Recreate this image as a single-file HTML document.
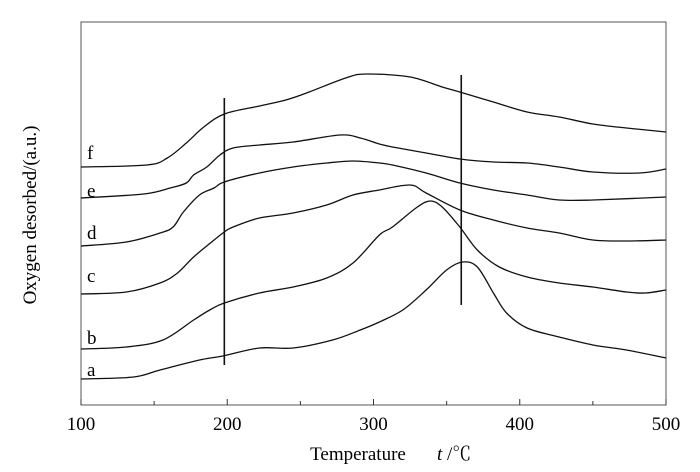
<!DOCTYPE html>
<html><head><meta charset="utf-8"><style>
html,body{margin:0;padding:0;background:#fff}
svg{display:block;font-family:"Liberation Serif","Noto Serif CJK SC",serif}
</style></head><body>
<svg id="chart" width="700" height="472" viewBox="0 0 700 472">
<rect x="81" y="22" width="585" height="383" fill="none" stroke="#555" stroke-width="1"/>
<g id="ticks"></g>
<g id="series"></g>
<text x="36" y="215" font-size="19" text-anchor="middle" transform="rotate(-90 36 215)">Oxygen desorbed/(a.u.)</text>
<text x="358" y="460" font-size="19" text-anchor="middle">Temperature</text>
<text x="437" y="460" font-size="19" font-style="italic">t</text>
<text x="447" y="460" font-size="19">/℃</text>
</svg>
<script>
const xTicks=[100,200,300,400,500];
const xMinor=[150,250,350,450];
const labels=['a','b','c','d','e','f'];
const labelY=[376,344,282,239,197,159];
const tA=[100,136,154,181,197,222,245,272,291,304,320,336,350,361,371,382,391,405,427,450,473,500];
const vA=[26,28,35,45,49,57,57,65,75,83,95,115,135,143,138,112,92,77,68,60,55,47];
const tB=[100,131,156,177,188,198,222,245,268,286,304,313,330,339,347,359,371,386,405,427,450,473,486,500];
const vB=[56,58,65,85,95,102,112,118,127,142,170,178,198,204,198,178,155,138,128,122,118,113,112,115];
const tC=[100,131,154,166,177,191,198,204,222,245,268,286,304,325,336,359,382,405,427,450,473,500];
const vC=[111,113,122,132,148,165,173,178,187,192,200,210,215,220,212,195,185,177,172,165,164,165];
const tD=[100,131,154,163,170,181,191,198,222,245,268,286,304,313,336,359,382,405,427,450,500];
const vD=[159,163,172,178,193,210,217,223,232,238,242,244,242,240,232,222,215,210,205,205,208];
const tE=[100,143,161,172,177,186,195,204,222,245,277,291,304,313,336,359,382,405,427,450,482,500];
const vE=[207,211,217,222,230,238,250,257,260,263,270,267,261,258,252,246,243,242,238,233,232,236];
const tF=[100,145,159,172,184,198,222,240,256,281,295,325,347,359,382,405,427,450,473,500];
const vF=[238,240,247,262,278,291,299,305,313,327,331,328,318,313,303,293,288,281,277,273];
const seriesT=[tA,tB,tC,tD,tE,tF];
const seriesV=[vA,vB,vC,vD,vE,vF];
const markerTemps=[198,360];
const markerTop=[307,330];
const markerBottom=[40,100];
const X=t=>81+(t-100)*585/400;
const Y=v=>405-v;
const NS='http://www.w3.org/2000/svg';
function smoothPath(pts){
  let d='M'+pts[0][0].toFixed(1)+','+pts[0][1].toFixed(1);
  for(let i=0;i<pts.length-1;i++){
    const p0=pts[Math.max(0,i-1)],p1=pts[i],p2=pts[i+1],p3=pts[Math.min(pts.length-1,i+2)];
    const c1x=p1[0]+(p2[0]-p0[0])/6,c1y=p1[1]+(p2[1]-p0[1])/6;
    const c2x=p2[0]-(p3[0]-p1[0])/6,c2y=p2[1]-(p3[1]-p1[1])/6;
    d+='C'+c1x.toFixed(1)+','+c1y.toFixed(1)+' '+c2x.toFixed(1)+','+c2y.toFixed(1)+' '+p2[0].toFixed(1)+','+p2[1].toFixed(1);
  }
  return d;
}
const tg=document.getElementById('ticks');
xTicks.forEach(t=>{
  const l=document.createElementNS(NS,'line');
  
  
  l.setAttribute('x1',X(t));l.setAttribute('x2',X(t));l.setAttribute('y1',405);l.setAttribute('y2',399);
  l.setAttribute('stroke','#333');tg.appendChild(l);
  const tx=document.createElementNS(NS,'text');
  
  
  tx.setAttribute('x',X(t));tx.setAttribute('y',430);tx.setAttribute('font-size','19');tx.setAttribute('text-anchor','middle');
  tx.textContent=t;tg.appendChild(tx);
});
xMinor.forEach(t=>{
  const l=document.createElementNS(NS,'line');
  
  
  l.setAttribute('x1',X(t));l.setAttribute('x2',X(t));l.setAttribute('y1',405);l.setAttribute('y2',401);
  l.setAttribute('stroke','#333');tg.appendChild(l);
});
const sg=document.getElementById('series');
seriesT.forEach((ts,i)=>{
  const p=document.createElementNS(NS,'path');
  
  
  p.setAttribute('d',smoothPath(ts.map((t,j)=>[X(t),Y(seriesV[i][j])])));
  p.setAttribute('fill','none');p.setAttribute('stroke','#111');p.setAttribute('stroke-width','1.3');p.setAttribute('stroke-linejoin','round');
  sg.appendChild(p);
  const tx=document.createElementNS(NS,'text');
  
  
  tx.setAttribute('x',87);tx.setAttribute('y',labelY[i]);tx.setAttribute('font-size','19');
  tx.textContent=labels[i];sg.appendChild(tx);
});
markerTemps.forEach((t,i)=>{
  const l=document.createElementNS(NS,'line');
  
  
  l.setAttribute('x1',X(t));l.setAttribute('x2',X(t));l.setAttribute('y1',Y(markerTop[i]));l.setAttribute('y2',Y(markerBottom[i]));
  l.setAttribute('stroke','#111');l.setAttribute('stroke-width','1.6');sg.appendChild(l);
});
</script>
</body></html>
